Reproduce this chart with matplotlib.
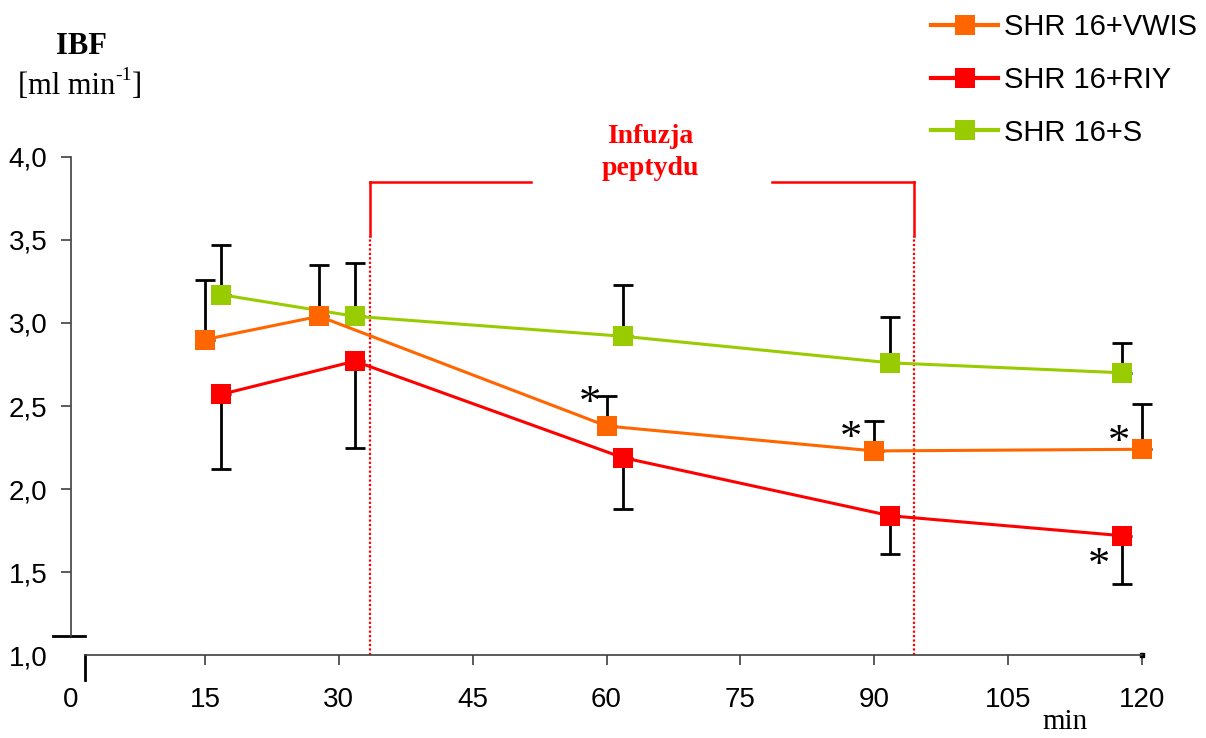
import matplotlib.pyplot as plt
from matplotlib.lines import Line2D

# time points (min)
time_vwis = [15, 27.8, 60, 90, 120]
time_other = [16.8, 31.8, 61.8, 91.8, 117.8]

# IBF means and SEM
ibf_vwis = [2.90, 3.04, 2.38, 2.23, 2.24]
err_vwis = [0.36, 0.31, 0.18, 0.18, 0.27]
ibf_riy = [2.57, 2.77, 2.19, 1.84, 1.72]
err_riy = [0.45, 0.52, 0.31, 0.23, 0.29]
ibf_s = [3.17, 3.04, 2.92, 2.76, 2.70]
err_s = [0.30, 0.32, 0.31, 0.275, 0.18]

labels = ['SHR 16+VWIS', 'SHR 16+RIY', 'SHR 16+S']
colors = ['#FF6600', '#FF0000', '#99CC00']

x_ticks = [0, 15, 30, 45, 60, 75, 90, 105, 120]
y_ticks = [1.0, 1.5, 2.0, 2.5, 3.0, 3.5, 4.0]

# infusion window and significance marks
infusion = (33.5, 94.5)
stars = [(58.1, 2.515), (87.4, 2.30), (117.4, 2.275), (115.2, 1.535)]

sans = 'Liberation Sans'
serif = 'Liberation Serif'

fig = plt.figure(figsize=(12.06, 7.38), dpi=100)
ax = fig.add_axes([0.0589, 0.1119, 0.8881, 0.6758])
ax.set_xlim(0, 120)
ax.set_ylim(1, 4)

zero = [0] * 5
series = [
    (time_other, ibf_s, [zero, err_s], colors[2]),
    (time_other, ibf_riy, [err_riy, zero], colors[1]),
    (time_vwis, ibf_vwis, [zero, err_vwis], colors[0]),
]
for k, (t, y, e, c) in enumerate(series):
    eb = ax.errorbar(t, y, yerr=e, fmt='none', ecolor='black', elinewidth=2,
                     capsize=7, capthick=2, zorder=2 + k)
    for art in eb.get_children():
        art.set_clip_on(False)
    ax.plot(t, y, color=c, lw=2.2, marker='s', markersize=14,
            markeredgewidth=0, zorder=2.5 + k, clip_on=False)

# axes look
for s in ['top', 'right']:
    ax.spines[s].set_visible(False)
ax.spines['left'].set_bounds(1.117, 4.0)
ax.spines['bottom'].set_bounds(1.57, 120)
for s in ['left', 'bottom']:
    ax.spines[s].set_color('#404040')
    ax.spines[s].set_linewidth(1.2)

ax.set_xticks(x_ticks)
ax.set_xticklabels([str(v) for v in x_ticks], fontname=sans, fontsize=20)
ax.set_yticks(y_ticks)
ax.set_yticklabels([f'{v:.1f}'.replace('.', ',') for v in y_ticks], fontname=sans, fontsize=20)
ax.tick_params(axis='x', length=7, width=1.2, color='#404040', pad=16)
ax.tick_params(axis='y', length=7, width=1.2, color='#404040', pad=10)
ax.xaxis.get_major_ticks()[0].tick1line.set_visible(False)
ax.yaxis.get_major_ticks()[0].tick1line.set_visible(False)

# broken axis bits
ax.plot([-2.0, 1.57], [1.117, 1.117], color='black', lw=2, clip_on=False)
ax.plot([1.57, 1.57], [1.0, 0.853], color='black', lw=2, clip_on=False)
ax.plot([120], [1.0], marker='s', markersize=3, color='black', clip_on=False)

# infusion bracket
for xv in infusion:
    ax.plot([xv, xv], [1.0, 3.52], color='red', lw=1.6, ls=(0, (1, 1)), clip_on=False)
    ax.plot([xv, xv], [3.52, 3.85], color='red', lw=1.8, clip_on=False)
ax.plot([infusion[0], 51.5], [3.85, 3.85], color='red', lw=1.8, clip_on=False)
ax.plot([78.5, infusion[1]], [3.85, 3.85], color='red', lw=1.8, clip_on=False)
ax.text(64.9, 4.083, 'Infuzja', color='red', fontname=serif, fontweight='bold',
        fontsize=20, ha='center', va='baseline')
ax.text(64.9, 3.89, 'peptydu', color='red', fontname=serif, fontweight='bold',
        fontsize=20, ha='center', va='baseline')

for sx, sy in stars:
    ax.text(sx, sy, '*', fontname=serif, fontsize=32, ha='center', va='center')

# labels
fig.text(81 / 1206, 1 - 47 / 738, 'IBF', fontname=serif, fontweight='bold',
         fontsize=22, ha='center', va='center')
unit = fig.text(18 / 1206, 1 - 94 / 738, '[ml min', fontname=serif, fontsize=22,
                ha='left', va='baseline')
sup = ax.annotate('-1', xy=(1.0, 0.6), xycoords=unit, fontname=serif,
                  fontsize=14, ha='left', va='bottom', annotation_clip=False)
ax.annotate(']', xy=(1.0, 0.0), xycoords=(sup, unit), fontname=serif,
            fontsize=22, ha='left', va='bottom', annotation_clip=False)
fig.text(1065 / 1206, 1 - 722 / 738, 'min', fontname=serif, fontsize=21,
         ha='center', va='center')

handles = [Line2D([], [], color=c, lw=3, marker='s', markersize=14, markeredgewidth=0)
           for c in colors]
fig.legend(handles, labels, loc='upper right', bbox_to_anchor=(1.006, 1.004),
           frameon=False, prop={'family': sans, 'size': 21},
           handlelength=2.3, handletextpad=0.2, labelspacing=0.85,
           borderaxespad=0.15)

fig.savefig('out.png', dpi=100)
